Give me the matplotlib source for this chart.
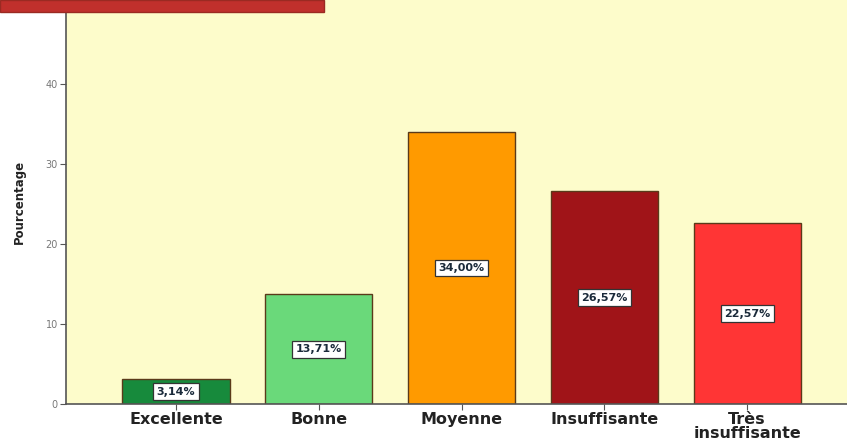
import matplotlib.pyplot as plt
from matplotlib.patches import Rectangle

categories = ['Excellente', 'Bonne', 'Moyenne', 'Insuffisante', 'Très\ninsuffisante']
pourcentages = [3.14, 13.71, 34.00, 26.57, 22.57]
labels = ['3,14%', '13,71%', '34,00%', '26,57%', '22,57%']
couleurs = ['#178a3c', '#6ad97a', '#ff9a00', '#a01418', '#ff3535']
yticks = [0, 10, 20, 30, 40]


def draw_chart():
    fig = plt.figure(figsize=(8.47, 4.46), dpi=100)
    ax = fig.add_axes([0.078, 0.094, 0.922, 0.906])
    ax.set_facecolor('#fdfccb')

    x = list(range(len(categories)))
    ax.bar(x, pourcentages, width=0.75, color=couleurs, edgecolor='#5a3a1a', linewidth=1.0, zorder=2)

    for xi, val, lab in zip(x, pourcentages, labels):
        ax.text(xi, val / 2, lab, ha='center', va='center', fontsize=8, fontweight='bold',
                color='#1a2a3a', zorder=3,
                bbox=dict(boxstyle='square,pad=0.3', facecolor='white', edgecolor='#333333', linewidth=0.9))

    ax.set_xlim(-0.77, 4.70)
    ax.set_ylim(0, 50.5)
    ax.set_xticks(x)
    ax.set_xticklabels(categories, fontsize=11.5, fontweight='bold', color='#222222', linespacing=0.85)
    ax.set_yticks(yticks)
    ax.set_yticklabels([str(t) for t in yticks], fontsize=7, color='#777777')
    ax.tick_params(axis='both', length=4, width=0.8, color='#555555', pad=2)
    ax.set_ylabel('Pourcentage', fontsize=8.5, fontweight='bold', color='#222222', labelpad=14)

    for side in ['top', 'right']:
        ax.spines[side].set_visible(False)
    ax.spines['left'].set_color('#555555')
    ax.spines['bottom'].set_color('#555555')
    ax.spines['left'].set_linewidth(1.2)
    ax.spines['bottom'].set_linewidth(1.2)

    # bandeau rouge en haut a gauche
    fig.patches.append(Rectangle((0, 0.972), 0.383, 0.028, transform=fig.transFigure,
                                 facecolor='#c0302c', edgecolor='#9a2a22', linewidth=1.0, zorder=5))

    fig.savefig('out.png', dpi=100)


if __name__ == '__main__':
    draw_chart()
